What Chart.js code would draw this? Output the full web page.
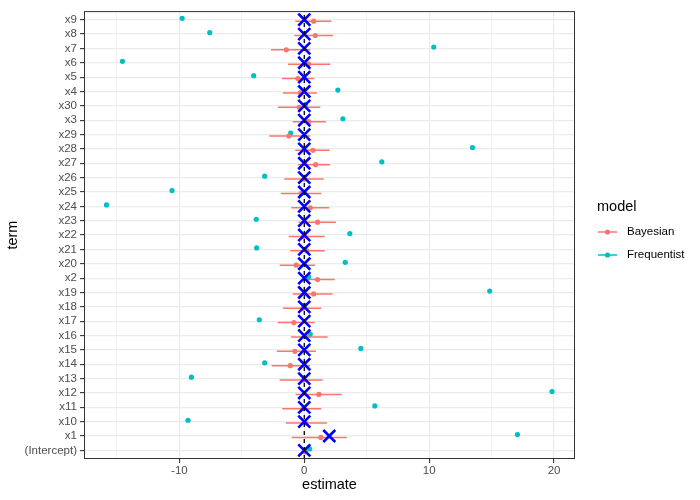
<!DOCTYPE html>
<html>
<head>
<meta charset="utf-8">
<script src="https://cdn.jsdelivr.net/npm/chart.js@4.4.0/dist/chart.umd.min.js"></script>
<style>
html, body { margin: 0; padding: 0; background: #ffffff; }
</style>
</head>
<body>
<canvas id="myChart" width="700" height="500"></canvas>
<script>
// terms, bottom to top as in the picture
var terms = ['(Intercept)','x1','x10','x11','x12','x13','x14','x15','x16','x17','x18','x19','x2','x20',
             'x21','x22','x23','x24','x25','x26','x27','x28','x29','x3','x30','x4','x5','x6','x7','x8','x9']

var freq_est  = [0.43, 17.07, -9.31, 5.65, 19.84, -9.04, -3.17, 4.53, 0.48, -3.6, 0.0, 14.85, 0.35, 3.28,
                 -3.81, 3.65, -3.84, -15.84, -10.59, -3.17, 6.21, 13.47, -1.09, 3.09, 0.1, 2.69, -4.05, -14.56, 10.37, -7.57, -9.78]

var bayes_est = [0.05, 1.33, 0.1, -0.1, 1.17, -0.05, -1.12, -0.75, 0.2, -0.83, -0.1, 0.75, 1.07, -0.64,
                 0.21, -0.05, 1.07, 0.48, -0.24, 0.0, 0.91, 0.69, -1.23, 0.35, -0.4, -0.32, -0.51, 0.35, -1.44, 0.88, 0.75]
var bayes_lo  = [-0.2, -1.01, -1.47, -1.76, -0.69, -1.97, -2.61, -2.19, -1.07, -2.13, -1.71, -0.93, -0.2, -1.97,
                 -1.12, -1.25, -0.45, -1.04, -1.87, -1.6, -0.51, -0.72, -2.8, -0.93, -2.11, -1.71, -1.79, -1.31, -2.67, -0.8, -0.72]
var bayes_hi  = [0.3, 3.41, 1.81, 1.36, 3.01, 1.47, 0.48, 0.93, 1.87, 0.83, 1.36, 2.27, 2.43, 0.85,
                 1.65, 1.63, 2.53, 2.0, 1.36, 1.55, 2.08, 2.03, 0.48, 1.73, 1.28, 1.01, 0.8, 2.08, 0.48, 2.3, 2.16]

var true_vals = [0, 2, 0, 0, 0, 0, 0, 0, 0, 0, 0, 0, 0, 0, 0, 0, 0, 0, 0, 0, 0, 0, 0, 0, 0, 0, 0, 0, 0, 0, 0]

var x_major = [-10, 0, 10, 20]
var x_minor = [-15, -5, 5, 15]
var v_line_x = 0

var model_names = ['Bayesian', 'Frequentist']
var model_colors = ['#F8766D', '#00BFC4']

var dodge = 0.1
var font_family = "'Liberation Sans', Arial, sans-serif"

function on_load_function() {
    var bayes_points = []
    var freq_points = []
    var true_points = []
    for (i = 0; i < terms.length; i++) {
        bayes_points.push({x: bayes_est[i], y: i - dodge})
        freq_points.push({x: freq_est[i], y: i + dodge})
        true_points.push({x: true_vals[i], y: i})
    }

    // horizontal intervals for the bayesian model, drawn below the points
    const error_bars = {
        id: 'error_bars',
        beforeDatasetsDraw: (chart) => {
            const ctx = chart.ctx
            const xs = chart.scales.x
            const ys = chart.scales.y
            const area = chart.chartArea
            ctx.save()
            ctx.beginPath()
            ctx.rect(area.left, area.top, area.right - area.left, area.bottom - area.top)
            ctx.clip()
            ctx.strokeStyle = model_colors[0]
            ctx.lineWidth = 1.5
            for (i = 0; i < terms.length; i++) {
                var y = ys.getPixelForValue(i - dodge)
                ctx.beginPath()
                ctx.moveTo(xs.getPixelForValue(bayes_lo[i]), y)
                ctx.lineTo(xs.getPixelForValue(bayes_hi[i]), y)
                ctx.stroke()
            }
            ctx.restore()
        }
    }

    const panel_border = {
        id: 'panel_border',
        afterDraw: (chart) => {
            const ctx = chart.ctx
            const a = chart.chartArea
            ctx.save()
            ctx.strokeStyle = '#333333'
            ctx.lineWidth = 1
            ctx.strokeRect(a.left + 0.5, a.top + 0.5, a.right - a.left - 1, a.bottom - a.top - 1)
            ctx.restore()
        }
    }

    // ggplot style legend on the right
    const side_legend = {
        id: 'side_legend',
        afterDraw: (chart) => {
            const ctx = chart.ctx
            const x0 = chart.chartArea.right + 23
            ctx.save()
            ctx.fillStyle = '#000000'
            ctx.textBaseline = 'middle'
            ctx.font = '14.5px ' + font_family
            ctx.fillText('model', x0 - 1, 207)
            for (k = 0; k < model_names.length; k++) {
                var y = 232 + k * 23
                ctx.strokeStyle = model_colors[k]
                ctx.lineWidth = 1.5
                ctx.beginPath()
                ctx.moveTo(x0, y)
                ctx.lineTo(x0 + 19, y)
                ctx.stroke()
                ctx.fillStyle = model_colors[k]
                ctx.beginPath()
                ctx.arc(x0 + 9.5, y, 2.6, 0, Math.PI * 2)
                ctx.fill()
                ctx.fillStyle = '#000000'
                ctx.font = '11.5px ' + font_family
                ctx.fillText(model_names[k], x0 + 29, y)
            }
            ctx.restore()
        }
    }

    var the_chart_canvas = document.getElementById('myChart').getContext('2d')
    var myChart = new Chart(the_chart_canvas, {
        type: 'scatter',
        data: {
            datasets: [
                {
                    label: 'zero',
                    type: 'line',
                    data: [{x: v_line_x, y: -0.6}, {x: v_line_x, y: terms.length - 0.4}],
                    borderColor: '#000000',
                    borderWidth: 1.3,
                    borderDash: [4, 4],
                    pointRadius: 0,
                    fill: false
                },
                {
                    label: 'truth',
                    data: true_points,
                    pointStyle: 'crossRot',
                    pointRadius: 8.5,
                    borderColor: '#0000FF',
                    borderWidth: 2.6
                },
                {
                    label: model_names[0],
                    data: bayes_points,
                    pointRadius: 2.6,
                    backgroundColor: model_colors[0],
                    borderWidth: 0
                },
                {
                    label: model_names[1],
                    data: freq_points,
                    pointRadius: 2.6,
                    backgroundColor: model_colors[1],
                    borderWidth: 0
                }
            ]
        },
        options: {
            responsive: false,
            animation: false,
            layout: {padding: {top: 7, right: 125, bottom: 0, left: 0}},
            plugins: {
                legend: {display: false},
                tooltip: {enabled: false}
            },
            scales: {
                x: {
                    type: 'linear',
                    min: -17.64,
                    max: 21.68,
                    afterBuildTicks: (axis) => {
                        axis.ticks = x_major.concat(x_minor).sort((a, b) => a - b).map(v => ({value: v}))
                    },
                    afterFit: (axis) => { axis.height = 41 },
                    ticks: {
                        autoSkip: false,
                        maxRotation: 0,
                        padding: 1,
                        color: '#4D4D4D',
                        font: {family: font_family, size: 11.5},
                        callback: (v) => x_major.indexOf(v) >= 0 ? String(v) : ''
                    },
                    grid: {
                        color: '#EBEBEB',
                        lineWidth: (c) => x_major.indexOf(c.tick.value) >= 0 ? 1.2 : 0.6,
                        tickLength: 4,
                        tickWidth: 1.1,
                        tickColor: (c) => x_major.indexOf(c.tick.value) >= 0 ? '#333333' : 'rgba(0,0,0,0)'
                    },
                    border: {display: false},
                    title: {
                        display: true,
                        text: 'estimate',
                        color: '#000000',
                        font: {family: font_family, size: 14.5},
                        padding: {top: 0, bottom: 6}
                    }
                },
                y: {
                    type: 'linear',
                    min: -0.6,
                    max: terms.length - 0.4,
                    afterBuildTicks: (axis) => {
                        axis.ticks = terms.map((t, i) => ({value: i}))
                    },
                    afterFit: (axis) => { axis.width = 84 },
                    ticks: {
                        autoSkip: false,
                        padding: 3,
                        color: '#4D4D4D',
                        font: {family: font_family, size: 11.5},
                        callback: (v) => terms[v]
                    },
                    grid: {
                        color: '#EBEBEB',
                        lineWidth: 1.2,
                        tickLength: 4,
                        tickWidth: 1.1,
                        tickColor: '#333333'
                    },
                    border: {display: false},
                    title: {
                        display: true,
                        text: 'term',
                        color: '#000000',
                        font: {family: font_family, size: 14.5},
                        padding: {top: 4, bottom: 0}
                    }
                }
            }
        },
        plugins: [error_bars, panel_border, side_legend]
    })
}

on_load_function()
</script>
</body>
</html>
